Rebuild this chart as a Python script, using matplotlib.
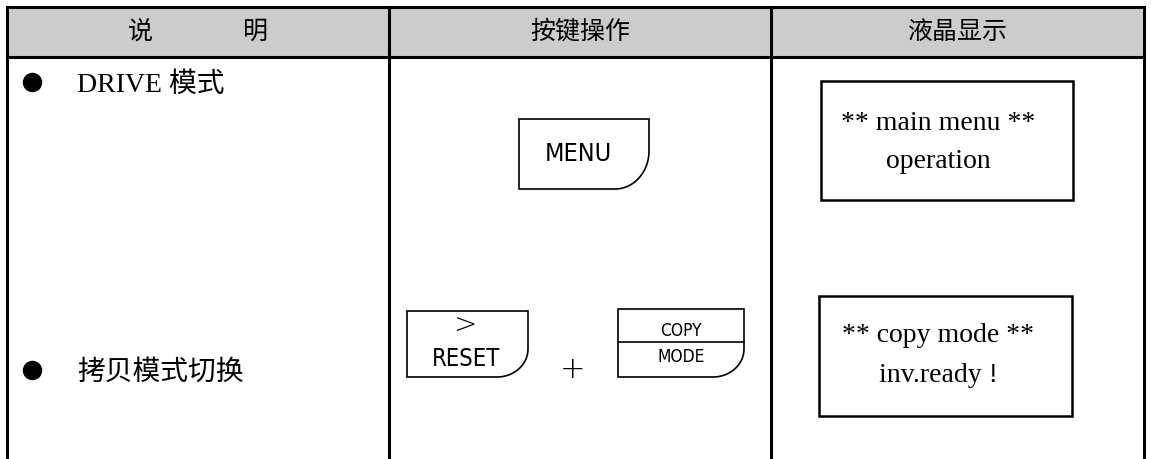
import matplotlib.pyplot as plt
from matplotlib.path import Path
from matplotlib.patches import PathPatch, Rectangle
from matplotlib import font_manager
import numpy as np

plt.rcParams['font.family'] = ['Noto Sans CJK SC', 'DejaVu Sans']

# 表格内容
headers = ['说                明', '按键操作', '液晶显示']
modes = ['DRIVE 模式', '拷贝模式切换']
key_menu = 'MENU'
key_reset = ['>', 'RESET']
key_copy = ['COPY', 'MODE']
lcd_lines = [['** main menu **', 'operation'],
             ['** copy mode **', 'inv.ready !']]

W, H = 1151, 459
col_x = [7, 389, 771, 1144]
top, head_bot = 7, 57

fig = plt.figure(figsize=(W / 100, H / 100), dpi=100)
ax = fig.add_axes([0, 0, 1, 1])
ax.set_xlim(0, W)
ax.set_ylim(H, 0)
ax.axis('off')

serif = ['Liberation Serif', 'Noto Sans CJK SC']

# 按键上的窄字体：有就用窄体
names = {(f.name, f.stretch) for f in font_manager.fontManager.ttflist}
if any(n == 'Liberation Sans Narrow' for n, s in names):
    narrow = dict(family='Liberation Sans Narrow')
elif ('DejaVu Sans', 'condensed') in names or any(n == 'DejaVu Sans Condensed' for n, s in names):
    narrow = dict(family='DejaVu Sans', fontstretch='condensed')
else:
    narrow = dict(family='Liberation Sans')

# 表头
ax.add_patch(Rectangle((col_x[0], top), col_x[-1] - col_x[0], head_bot - top,
                       facecolor='#cccccc', edgecolor='none'))
ax.plot([col_x[0], col_x[-1]], [top, top], color='black', lw=2.2)
ax.plot([col_x[0], col_x[-1]], [head_bot, head_bot], color='black', lw=2.2)
for x in col_x:
    ax.plot([x, x], [top, H + 5], color='black', lw=2.2)
for i, h in enumerate(headers):
    ax.text((col_x[i] + col_x[i + 1]) / 2, 32, h, fontsize=18, ha='center', va='center')

# 说明列
row_y = [82, 370]
for y, m in zip(row_y, modes):
    ax.plot(32, y, 'o', color='black', ms=13)
    ax.text(77, y + 3, m, fontsize=20, ha='left', va='center', family=serif)


def key(x0, y0, x1, y1, rx, ry):
    t = np.linspace(0, np.pi / 2, 30)
    arc = np.column_stack([x1 - rx + rx * np.cos(t), y1 - ry + ry * np.sin(t)])
    verts = [(x0, y0), (x1, y0), (x1, y1 - ry)] + list(arc) + [(x0, y1), (x0, y0)]
    codes = [Path.MOVETO] + [Path.LINETO] * (len(verts) - 2) + [Path.CLOSEPOLY]
    ax.add_patch(PathPatch(Path(verts, codes), facecolor='white', edgecolor='black', lw=1.2))


# 按键
key(519, 119, 649, 189, 34, 38)
ax.text(578, 154, key_menu, fontsize=18, ha='center', va='center', **narrow)

key(407, 311, 528, 377, 31, 28)
ax.text(466, 326, key_reset[0], fontsize=20, ha='center', va='center', family='DejaVu Sans',
        fontweight='ultralight')
ax.text(466, 359, key_reset[1], fontsize=17, ha='center', va='center', **narrow)

ax.text(573, 369, '+', fontsize=22, ha='center', va='center', family='DejaVu Sans',
        fontweight='ultralight')

key(618, 309, 744, 377, 31, 28)
ax.plot([618, 744], [342, 342], color='black', lw=1.2)
ax.text(681, 331, key_copy[0], fontsize=12.5, ha='center', va='center', **narrow)
ax.text(681, 357, key_copy[1], fontsize=12.5, ha='center', va='center', **narrow)

# 液晶显示
boxes = [(821, 81, 1073, 200), (819, 296, 1072, 416)]
text_y = [(123, 162), (335, 375)]
for (x0, y0, x1, y1), lines, ys in zip(boxes, lcd_lines, text_y):
    ax.add_patch(Rectangle((x0, y0), x1 - x0, y1 - y0, facecolor='white',
                           edgecolor='black', lw=1.8))
    for s, y in zip(lines, ys):
        ax.text(938, y, s, fontsize=20, ha='center', va='center', family=serif)

fig.savefig('out.png', dpi=100)
